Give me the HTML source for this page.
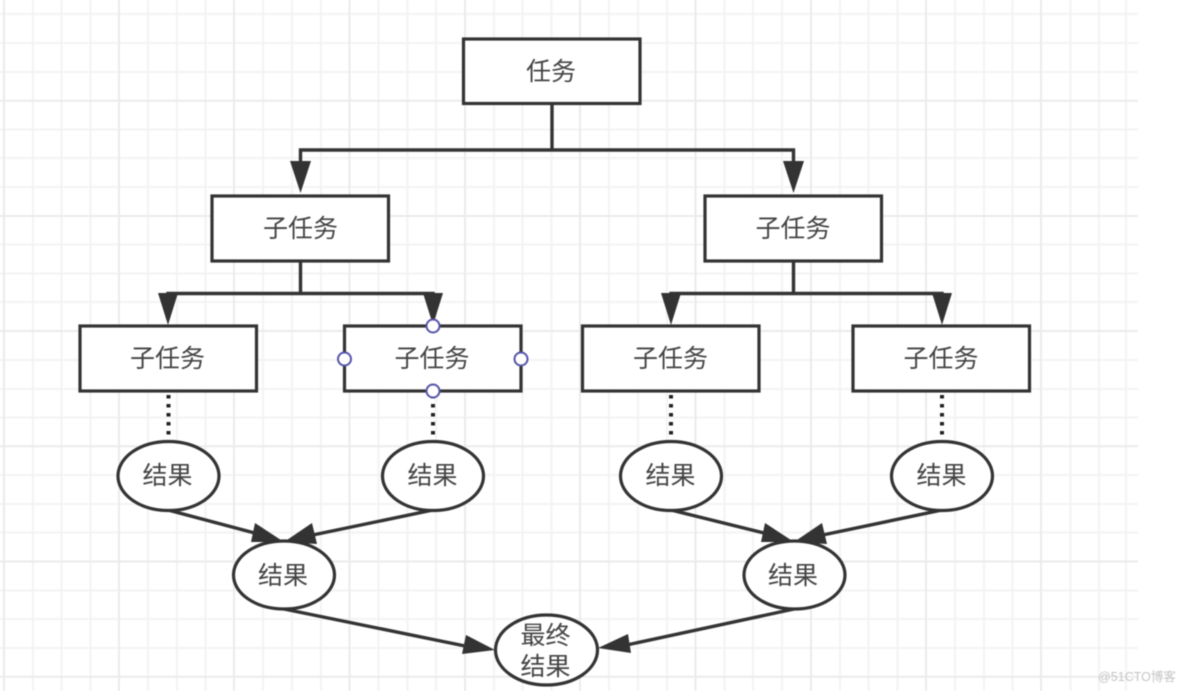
<!DOCTYPE html>
<html><head><meta charset="utf-8"><style>
html,body{margin:0;padding:0;background:#fff;width:1184px;height:691px;overflow:hidden}
svg{display:block;filter:blur(.6px)}
text{font-family:"Liberation Sans","Noto Sans CJK SC",sans-serif;font-size:25px;fill:#444;text-anchor:middle}
</style></head><body>
<svg width="1184" height="691" viewBox="0 0 1184 691" xmlns="http://www.w3.org/2000/svg">
<g stroke="#f3f3f3" stroke-width="2" fill="none">
<path d="M33 0V691M61.500 0V691M90.500 0V691M148 0V691M177 0V691M205.500 0V691M263 0V691M292 0V691M321 0V691M378.500 0V691M407.500 0V691M436 0V691M494 0V691M522.500 0V691M551.500 0V691M609 0V691M638 0V691M667 0V691M724.500 0V691M753 0V691M782 0V691M840 0V691M868.500 0V691M897.500 0V691M955 0V691M984 0V691M1012.500 0V691M1070.500 0V691M1099 0V691M1126 0V691"/>
<path d="M0 14H1138M0 43H1138M0 72H1138M0 129.500H1138M0 158H1138M0 187H1138M0 244.500H1138M0 273.500H1138M0 302H1138M0 360H1138M0 389H1138M0 417.500H1138M0 475H1138M0 504H1138M0 532.500H1138M0 590.500H1138M0 619H1138M0 648H1138"/>
</g>
<g stroke="#ebebeb" stroke-width="2" fill="none">
<path d="M4 0V691M119 0V691M234 0V691M349.500 0V691M465 0V691M580 0V691M695.500 0V691M811 0V691M926 0V691M1041 0V691"/>
<path d="M0 100.700H1138M0 216H1138M0 331H1138M0 446.300H1138M0 561.500H1138M0 676.700H1138"/>
</g>

<!-- connectors -->
<g stroke="#333" stroke-width="3.400" fill="none">
<path d="M552 103V150M300.500 165V150H793.500V165"/>
<path d="M300.500 261V293.500M168 305V293.500H433V305"/>
<path d="M793.500 261V293.500M671 305V293.500H942V305"/>
<path d="M168 510L262 535M433 510L308 536M284 609L470 647"/>
<path d="M671 510L772 535M942 510L818 536M794 609L622 646"/>
</g>
<g stroke="#222" stroke-width="4" fill="none" stroke-dasharray="3.500 5.500">
<path d="M168.500 395V440M433 395V440M671 395V440M942 395V440"/>
</g>
<g fill="#333">
<polygon points="290,161 311,161 300.500,193"/>
<polygon points="783,161 804,161 793.500,193"/>
<polygon points="158,293 178,293 168,325"/>
<polygon points="423,293 443,293 433,325"/>
<polygon points="661,293 681,293 671,325"/>
<polygon points="932,293 952,293 942,325"/>
<polygon points="255,523 251,542 284,542"/>
<polygon points="312,523 317,544 284,542"/>
<polygon points="765,523 761,542 794,542"/>
<polygon points="822,523 827,544 794,542"/>
<polygon points="466,635 462,654 495,650"/>
<polygon points="628,634 631,653 598,648"/>
</g>

<!-- rects -->
<g fill="#fff" stroke="#333" stroke-width="3.200">
<rect x="463.500" y="39" width="176.500" height="64.500"/>
<rect x="212" y="196" width="176.500" height="65"/>
<rect x="705" y="196" width="176.500" height="65"/>
<rect x="80" y="326" width="176.500" height="65"/>
<rect x="344.500" y="326" width="176.500" height="65"/>
<rect x="582.500" y="326" width="176.500" height="65"/>
<rect x="853" y="326" width="176.500" height="65"/>
<ellipse cx="168.500" cy="476" rx="50.500" ry="34.500"/>
<ellipse cx="433" cy="476" rx="50.500" ry="34.500"/>
<ellipse cx="671" cy="476" rx="50.500" ry="34.500"/>
<ellipse cx="942" cy="476" rx="50.500" ry="34.500"/>
<ellipse cx="284" cy="575" rx="50.500" ry="34"/>
<ellipse cx="794.500" cy="575" rx="50.500" ry="34"/>
<ellipse cx="546.500" cy="650" rx="51" ry="35"/>
</g>

<!-- selection handles -->
<g fill="#fff" stroke="#5555aa" stroke-width="2">
<circle cx="433" cy="326" r="6.500"/>
<circle cx="433" cy="391" r="6.500"/>
<circle cx="344.500" cy="359" r="6.500"/>
<circle cx="521" cy="359" r="6.500"/>
</g>

<!-- labels -->
<text x="551" y="80">任务</text>
<text x="300.500" y="237">子任务</text>
<text x="793" y="237">子任务</text>
<text x="167.500" y="367">子任务</text>
<text x="432" y="367">子任务</text>
<text x="670.500" y="367">子任务</text>
<text x="941" y="367">子任务</text>
<text x="167.500" y="484">结果</text>
<text x="432.500" y="484">结果</text>
<text x="670.500" y="484">结果</text>
<text x="941.500" y="484">结果</text>
<text x="283" y="584">结果</text>
<text x="793" y="584">结果</text>
<text x="545.500" y="644">最终</text>
<text x="545.500" y="675">结果</text>
<text x="1137" y="681" style="font-size:12.500px;fill:#c4c4c4">@51CTO博客</text>
</svg>
</body></html>
